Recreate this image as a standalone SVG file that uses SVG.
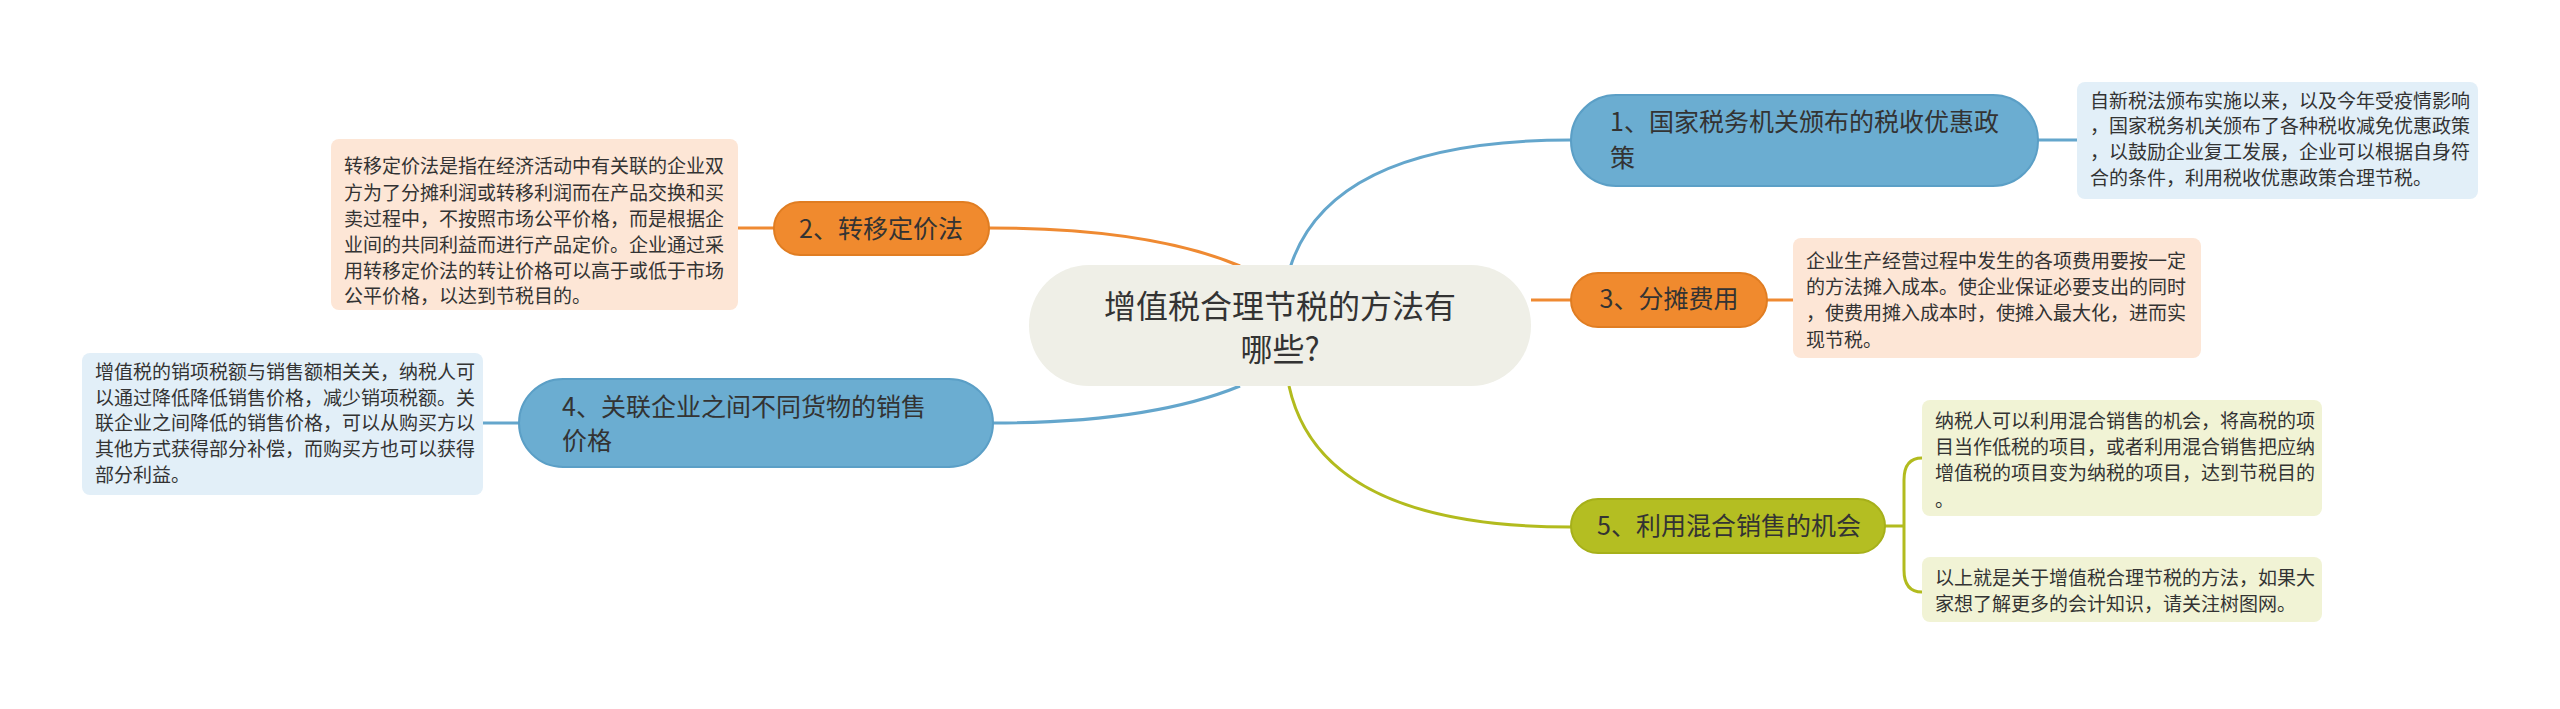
<svg xmlns="http://www.w3.org/2000/svg" width="2560" height="709" viewBox="0 0 2560 709">
<style>
text{font-family:"Noto Sans CJK SC","Noto Sans",sans-serif;fill:#333;}
.d{font-size:19px;}
.n{font-size:25px;}
.r{font-size:32px;}
.blue{fill:#6badd1;stroke:#5b9fc6;stroke-width:2;}
.orange{fill:#f08a2e;stroke:#e07d22;stroke-width:2;}
.green{fill:#b4be22;stroke:#a6b01a;stroke-width:2;}
.dblue{fill:#e2eff8;}
.dorange{fill:#fde6d6;}
.dgreen{fill:#f1f3d5;}
.cb{fill:none;stroke:#64a6cc;stroke-width:3;}
.co{fill:none;stroke:#ef8a32;stroke-width:3;}
.cg{fill:none;stroke:#b2bb1e;stroke-width:3;}
</style>
<rect width="2560" height="709" fill="#ffffff"/>
<g id="connectors">
<path class="cb" d="M1290 268 Q1330 140 1571 140"/>
<path class="co" d="M1240 266 Q1150 228 989 228"/>
<path class="co" d="M1531 300 L1571 300"/>
<path class="cb" d="M1240 386 Q1150 423 993 423"/>
<path class="cg" d="M1289 386 Q1320 527 1571 527"/>
<path class="cb" d="M2038 140 L2077 140"/>
<path class="co" d="M738 228 L774 228"/>
<path class="co" d="M1767 300 L1793 300"/>
<path class="cb" d="M483 423 L519 423"/>
<path class="cg" d="M1885 526 L1904 526 M1922 458 Q1904 458 1904 480 L1904 570 Q1904 592 1922 592"/>
</g>
<g id="root">
<rect x="1029" y="265" width="502" height="121" rx="60" fill="#efefe7"/>
<text class="r" x="1280" y="318" text-anchor="middle">增值税合理节税的方法有</text>
<text class="r" x="1280" y="361" text-anchor="middle">哪些?</text>
</g>
<g id="node1">
<rect class="blue" x="1571" y="95" width="467" height="91" rx="45"/>
<text class="n" x="1610" y="131">1、国家税务机关颁布的税收优惠政</text>
<text class="n" x="1610" y="167">策</text>
</g>
<g id="desc1">
<rect class="dblue" x="2077" y="82" width="401" height="117" rx="8"/>
<text class="d" x="2090" y="108">自新税法颁布实施以来，以及今年受疫情影响</text>
<text class="d" x="2090" y="133">，国家税务机关颁布了各种税收减免优惠政策</text>
<text class="d" x="2090" y="159">，以鼓励企业复工发展，企业可以根据自身符</text>
<text class="d" x="2090" y="185">合的条件，利用税收优惠政策合理节税。</text>
</g>
<g id="node2">
<rect class="orange" x="774" y="202" width="215" height="53" rx="26"/>
<text class="n" x="881" y="238" text-anchor="middle">2、转移定价法</text>
</g>
<g id="desc2">
<rect class="dorange" x="331" y="139" width="407" height="171" rx="8"/>
<text class="d" x="344" y="173">转移定价法是指在经济活动中有关联的企业双</text>
<text class="d" x="344" y="200">方为了分摊利润或转移利润而在产品交换和买</text>
<text class="d" x="344" y="226">卖过程中，不按照市场公平价格，而是根据企</text>
<text class="d" x="344" y="252">业间的共同利益而进行产品定价。企业通过采</text>
<text class="d" x="344" y="278">用转移定价法的转让价格可以高于或低于市场</text>
<text class="d" x="344" y="303">公平价格，以达到节税目的。</text>
</g>
<g id="node3">
<rect class="orange" x="1571" y="273" width="196" height="54" rx="27"/>
<text class="n" x="1669" y="308" text-anchor="middle">3、分摊费用</text>
</g>
<g id="desc3">
<rect class="dorange" x="1793" y="238" width="408" height="120" rx="8"/>
<text class="d" x="1806" y="268">企业生产经营过程中发生的各项费用要按一定</text>
<text class="d" x="1806" y="294">的方法摊入成本。使企业保证必要支出的同时</text>
<text class="d" x="1806" y="320">，使费用摊入成本时，使摊入最大化，进而实</text>
<text class="d" x="1806" y="347">现节税。</text>
</g>
<g id="node4">
<rect class="blue" x="519" y="379" width="474" height="88" rx="44"/>
<text class="n" x="562" y="416">4、关联企业之间不同货物的销售</text>
<text class="n" x="562" y="450">价格</text>
</g>
<g id="desc4">
<rect class="dblue" x="82" y="353" width="401" height="142" rx="8"/>
<text class="d" x="95" y="379">增值税的销项税额与销售额相关关，纳税人可</text>
<text class="d" x="95" y="405">以通过降低降低销售价格，减少销项税额。关</text>
<text class="d" x="95" y="430">联企业之间降低的销售价格，可以从购买方以</text>
<text class="d" x="95" y="456">其他方式获得部分补偿，而购买方也可以获得</text>
<text class="d" x="95" y="482">部分利益。</text>
</g>
<g id="node5">
<rect class="green" x="1571" y="499" width="314" height="54" rx="27"/>
<text class="n" x="1729" y="535" text-anchor="middle">5、利用混合销售的机会</text>
</g>
<g id="desc5a">
<rect class="dgreen" x="1922" y="400" width="400" height="116" rx="8"/>
<text class="d" x="1935" y="428">纳税人可以利用混合销售的机会，将高税的项</text>
<text class="d" x="1935" y="454">目当作低税的项目，或者利用混合销售把应纳</text>
<text class="d" x="1935" y="480">增值税的项目变为纳税的项目，达到节税目的</text>
<text class="d" x="1935" y="507">。</text>
</g>
<g id="desc5b">
<rect class="dgreen" x="1922" y="557" width="400" height="65" rx="8"/>
<text class="d" x="1935" y="585">以上就是关于增值税合理节税的方法，如果大</text>
<text class="d" x="1935" y="611">家想了解更多的会计知识，请关注树图网。</text>
</g>
</svg>
